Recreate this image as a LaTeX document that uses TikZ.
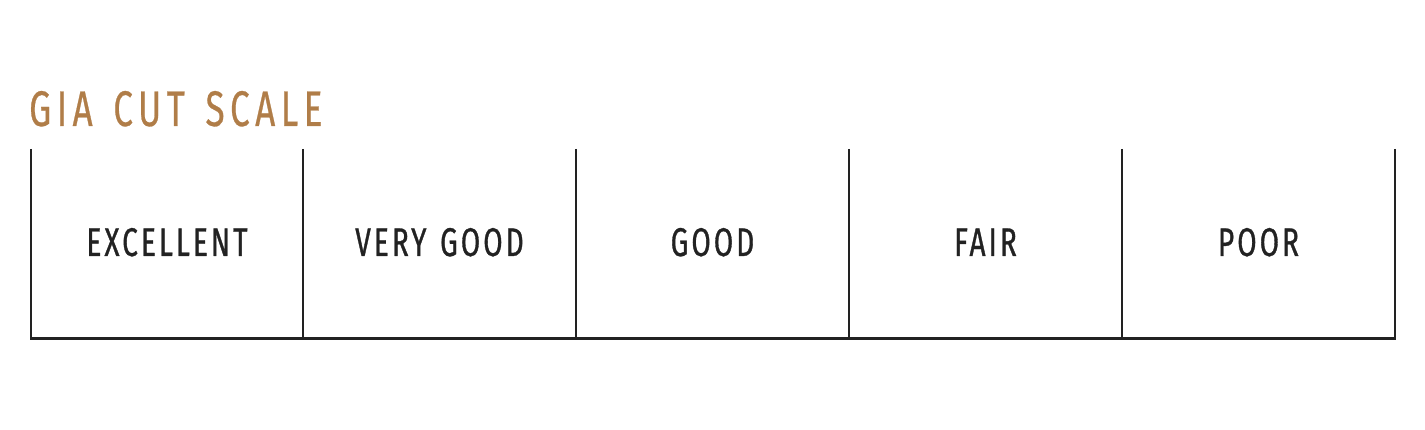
\documentclass[tikz,border=0pt]{standalone}
\usepackage{fontspec}
\setmainfont{Fira Sans}
\newfontfamily\titlefont[FakeStretch=0.70,FakeBold=0.5,LetterSpace=11,WordSpace=1.4]{Fira Sans}
\newfontfamily\labelfont[FakeStretch=0.70,FakeBold=0.8,LetterSpace=7.6,WordSpace=1.3]{Fira Sans}
\definecolor{gold}{HTML}{B07D48}
\definecolor{ink}{HTML}{222222}
\tikzset{
  title/.style={anchor=base west,inner sep=0pt,text=gold,font=\titlefont\fontsize{50}{50}\selectfont},
  grade/.style={anchor=base,inner sep=0pt,text=ink,font=\labelfont\fontsize{40}{40}\selectfont},
  divider/.style={draw=ink,line width=1.5pt},
  baseline rule/.style={draw=ink,line width=3pt}
}
\begin{document}
\begin{tikzpicture}[x=1pt,y=1pt]
\useasboundingbox (0,0) rectangle (1425,430);
\node[title] (t) at (29,304) {GIA CUT SCALE};
\foreach \i/\x in {0/31,1/303,2/576,3/849,4/1122,5/1395}{
  \coordinate (top\i) at (\x,281);
  \coordinate (bot\i) at (\x,91.5);
  \draw[divider] (top\i) -- (bot\i);
}
\coordinate (bl) at (30,91.5);
\coordinate (br) at (1396,91.5);
\draw[baseline rule] (bl) -- (br);
\node[grade] (g1) at (167,174) {EXCELLENT};
\node[grade] (g2) at (439.5,174) {VERY GOOD};
\node[grade] (g3) at (712.5,174) {GOOD};
\node[grade] (g4) at (985.5,174) {FAIR};
\node[grade] (g5) at (1258.5,174) {POOR};
\end{tikzpicture}
\end{document}
